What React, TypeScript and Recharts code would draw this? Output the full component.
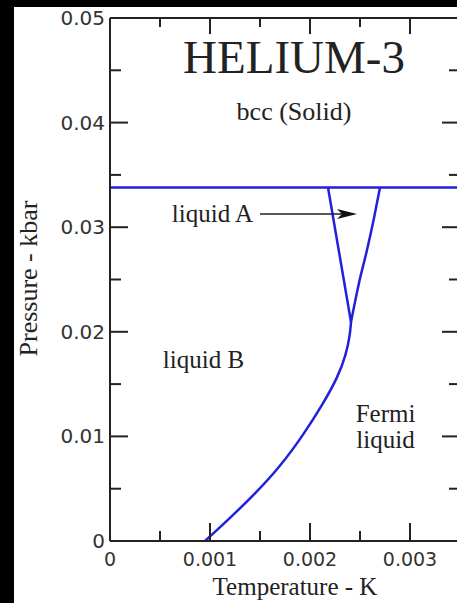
import { LineChart, Line, XAxis, YAxis, ReferenceDot, ReferenceLine } from 'recharts';

const tempTicks = [0, 0.0005, 0.001, 0.0015, 0.002, 0.0025, 0.003, 0.0035];
const tempLabels = [0, 0.001, 0.002, 0.003];
const pressureTicks = [0, 0.005, 0.01, 0.015, 0.02, 0.025, 0.03, 0.035, 0.04, 0.045, 0.05];
const pressureLabels = [0, 0.01, 0.02, 0.03, 0.04, 0.05];

// solid / liquid boundary
const meltingLine = [
    { t: 0, p: 0.0338 },
    { t: 0.0035, p: 0.0338 },
];

// A-B transition
const abLine = [
    { t: 0.00218, p: 0.0338 },
    { t: 0.00241, p: 0.02094 },
];

// B / Fermi liquid boundary, up to the triple point
const lowerCurve = [
    { t: 0.00095, p: 0 },
    { t: 0.0012, p: 0.0022 },
    { t: 0.00145, p: 0.0045 },
    { t: 0.0017, p: 0.0071 },
    { t: 0.00193, p: 0.0101 },
    { t: 0.00213, p: 0.0131 },
    { t: 0.00228, p: 0.0157 },
    { t: 0.00236, p: 0.0178 },
    { t: 0.0024, p: 0.0197 },
    { t: 0.00241, p: 0.02094 },
];

// A / Fermi liquid boundary, triple point up to melting
const upperCurve = [
    { t: 0.00241, p: 0.02094 },
    { t: 0.00249, p: 0.02467 },
    { t: 0.00257, p: 0.02782 },
    { t: 0.00264, p: 0.03088 },
    { t: 0.0027, p: 0.0338 },
];

const annotations = [
    { t: 0.00184, p: 0.04474, text: 'HELIUM-3', size: 47 },
    { t: 0.00184, p: 0.04025, text: 'bcc (Solid)', size: 26 },
    { t: 0.001025, p: 0.0305, text: 'liquid A', size: 25 },
    { t: 0.000935, p: 0.01654, text: 'liquid B', size: 25 },
    { t: 0.002755, p: 0.01138, text: 'Fermi', size: 25 },
    { t: 0.002755, p: 0.00889, text: 'liquid', size: 25 },
];

const arrowFrom = { t: 0.0015, p: 0.03126 };
const arrowTo = { t: 0.00247, p: 0.03126 };

const BLUE = '#2020dd';
const AXIS = '#222';
const SERIF = '"Liberation Serif", serif';
const SANS = '"DejaVu Sans", sans-serif';

const LeftTick = (props: any) => {
    const { x, y, payload } = props;
    const major = pressureLabels.includes(payload.value);
    return (
        <g>
            <line x1={x} x2={x + (major ? 18 : 11)} y1={y} y2={y} stroke={AXIS} strokeWidth={2} />
            {major && (
                <text x={x - 5} y={y + 7} textAnchor="end" fontFamily={SANS} fontSize={20} fill="#333">
                    {payload.value}
                </text>
            )}
        </g>
    );
};

const RightTick = (props: any) => {
    const { x, y, payload } = props;
    const major = pressureLabels.includes(payload.value);
    return <line x1={x} x2={x - (major ? 18 : 11)} y1={y} y2={y} stroke={AXIS} strokeWidth={2} />;
};

const BottomTick = (props: any) => {
    const { x, y, payload } = props;
    const major = tempLabels.includes(payload.value);
    return (
        <g>
            <line x1={x} x2={x} y1={y} y2={y - (major ? 18 : 10)} stroke={AXIS} strokeWidth={2} />
            {major && (
                <text x={x} y={y + 25} textAnchor="middle" fontFamily={SANS} fontSize={19} fill="#333">
                    {payload.value}
                </text>
            )}
        </g>
    );
};

const TopTick = (props: any) => {
    const { x, y, payload } = props;
    const major = tempLabels.includes(payload.value);
    return <line x1={x} x2={x} y1={y} y2={y + (major ? 16 : 9)} stroke={AXIS} strokeWidth={2} />;
};

export default function App() {
    return (
        <div style={{ position: 'absolute', left: 0, top: 0, width: 457, height: 603, background: '#000', overflow: 'hidden' }}>
            <div style={{ position: 'absolute', left: 14, top: 7, right: 0, bottom: 0, background: '#fff' }} />
            <div style={{ position: 'absolute', left: 0, top: 0 }}>
                <LineChart width={480} height={603} margin={{ top: 0, right: 0, bottom: 0, left: 0 }}>
                    <XAxis
                        xAxisId={0}
                        dataKey="t"
                        type="number"
                        domain={[0, 0.0035]}
                        ticks={tempTicks}
                        interval={0}
                        height={62}
                        tickSize={0}
                        tickMargin={0}
                        tickLine={false}
                        axisLine={{ stroke: AXIS, strokeWidth: 2 }}
                        tick={<BottomTick />}
                        label={{
                            content: (p: any) => (
                                <text
                                    x={p.viewBox.x + p.viewBox.width / 2 + 10}
                                    y={p.viewBox.y + 54}
                                    textAnchor="middle"
                                    fontFamily={SERIF}
                                    fontSize={25}
                                    fill="#222"
                                >
                                    Temperature - K
                                </text>
                            ),
                        }}
                    />
                    <XAxis
                        xAxisId="top"
                        orientation="top"
                        dataKey="t"
                        type="number"
                        domain={[0, 0.0035]}
                        ticks={tempTicks}
                        interval={0}
                        height={18}
                        tickSize={0}
                        tickMargin={0}
                        tickLine={false}
                        axisLine={{ stroke: AXIS, strokeWidth: 2 }}
                        tick={<TopTick />}
                    />
                    <YAxis
                        yAxisId={0}
                        type="number"
                        domain={[0, 0.05]}
                        ticks={pressureTicks}
                        interval={0}
                        width={110}
                        tickSize={0}
                        tickMargin={0}
                        tickLine={false}
                        axisLine={{ stroke: AXIS, strokeWidth: 2 }}
                        tick={<LeftTick />}
                        label={{
                            content: (p: any) => {
                                const cx = 37;
                                const cy = p.viewBox.y + p.viewBox.height / 2 - 1;
                                return (
                                    <text
                                        x={cx}
                                        y={cy}
                                        transform={`rotate(-90, ${cx}, ${cy})`}
                                        textAnchor="middle"
                                        fontFamily={SERIF}
                                        fontSize={26}
                                        fill="#222"
                                    >
                                        Pressure - kbar
                                    </text>
                                );
                            },
                        }}
                    />
                    <YAxis
                        yAxisId="right"
                        orientation="right"
                        type="number"
                        domain={[0, 0.05]}
                        ticks={pressureTicks}
                        interval={0}
                        width={20}
                        tickSize={0}
                        tickMargin={0}
                        tickLine={false}
                        axisLine={{ stroke: AXIS, strokeWidth: 2 }}
                        tick={<RightTick />}
                    />

                    <Line
                        xAxisId="top"
                        yAxisId="right"
                        data={meltingLine}
                        dataKey="p"
                        type="linear"
                        stroke={BLUE}
                        strokeWidth={2.5}
                        dot={false}
                        isAnimationActive={false}
                    />
                    <Line
                        data={abLine}
                        dataKey="p"
                        type="linear"
                        stroke={BLUE}
                        strokeWidth={2.5}
                        dot={false}
                        isAnimationActive={false}
                    />
                    <Line
                        data={lowerCurve}
                        dataKey="p"
                        type="basis"
                        stroke={BLUE}
                        strokeWidth={2.5}
                        dot={false}
                        isAnimationActive={false}
                    />
                    <Line
                        data={upperCurve}
                        dataKey="p"
                        type="monotone"
                        stroke={BLUE}
                        strokeWidth={2.5}
                        dot={false}
                        isAnimationActive={false}
                    />

                    <ReferenceLine
                        segment={[
                            { x: arrowFrom.t, y: arrowFrom.p },
                            { x: arrowTo.t - 0.00012, y: arrowTo.p },
                        ]}
                        stroke="#222"
                        strokeWidth={1.5}
                    />
                    <ReferenceDot
                        x={arrowTo.t}
                        y={arrowTo.p}
                        r={0}
                        shape={(p: any) => (
                            <path d={`M${p.cx},${p.cy} L${p.cx - 20},${p.cy - 5} L${p.cx - 15},${p.cy} L${p.cx - 20},${p.cy + 5} Z`} fill="#111" />
                        )}
                    />
                    {annotations.map((a) => (
                        <ReferenceDot
                            key={a.text}
                            x={a.t}
                            y={a.p}
                            r={0}
                            shape={(p: any) => (
                                <text x={p.cx} y={p.cy} textAnchor="middle" fontFamily={SERIF} fontSize={a.size} fill="#222">
                                    {a.text}
                                </text>
                            )}
                        />
                    ))}
                </LineChart>
            </div>
        </div>
    );
}
